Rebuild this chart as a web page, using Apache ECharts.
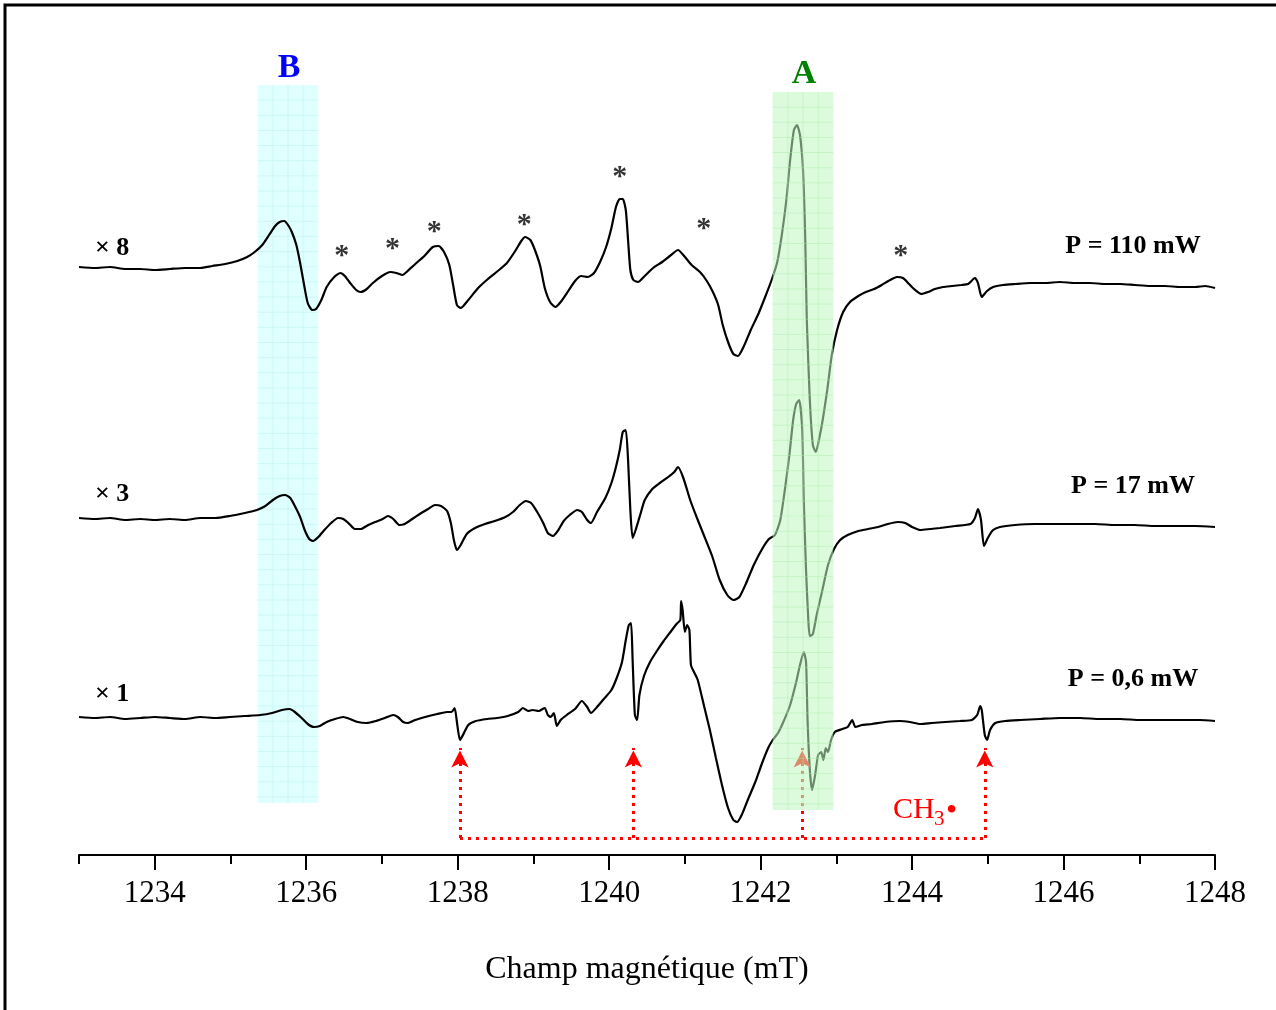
<!DOCTYPE html>
<html><head><meta charset="utf-8">
<script src="https://cdn.jsdelivr.net/npm/echarts@6/dist/echarts.min.js"></script>
<style>html,body{margin:0;padding:0;background:#fff}#c{width:1276px;height:1010px}</style>
</head><body><div id="c"></div>
<script>
// Field (mT) and intensity (arbitrary units, relative to each trace baseline)
const field110 = [1233.00,1233.21,1233.41,1233.61,1233.81,1234.00,1234.20,1234.40,1234.60,1234.76,1234.93,1235.09,1235.22,1235.32,1235.42,1235.51,1235.59,1235.65,1235.71,1235.76,1235.81,1235.87,1235.92,1235.97,1236.02,1236.08,1236.13,1236.20,1236.27,1236.37,1236.45,1236.51,1236.58,1236.66,1236.72,1236.80,1236.88,1237.00,1237.11,1237.19,1237.27,1237.34,1237.44,1237.56,1237.67,1237.75,1237.82,1237.89,1237.94,1237.99,1238.04,1238.14,1238.27,1238.40,1238.53,1238.65,1238.76,1238.84,1238.89,1238.96,1239.02,1239.09,1239.15,1239.22,1239.29,1239.36,1239.46,1239.55,1239.63,1239.72,1239.80,1239.88,1239.96,1240.03,1240.09,1240.14,1240.18,1240.22,1240.25,1240.28,1240.32,1240.38,1240.47,1240.58,1240.70,1240.80,1240.91,1240.99,1241.09,1241.20,1241.29,1241.37,1241.44,1241.50,1241.57,1241.64,1241.70,1241.78,1241.87,1241.97,1242.06,1242.15,1242.22,1242.28,1242.34,1242.39,1242.44,1242.48,1242.52,1242.56,1242.59,1242.61,1242.65,1242.69,1242.73,1242.77,1242.82,1242.88,1242.94,1243.01,1243.09,1243.18,1243.29,1243.39,1243.50,1243.60,1243.71,1243.80,1243.88,1243.96,1244.04,1244.12,1244.21,1244.30,1244.41,1244.53,1244.65,1244.74,1244.83,1244.87,1244.92,1244.99,1245.07,1245.20,1245.36,1245.56,1245.76,1245.95,1246.15,1246.35,1246.55,1246.75,1246.94,1247.14,1247.34,1247.54,1247.74,1247.87,1248.00];
const signal110 = [1,0,1,-1,-1,-2,-1,0,0,2,4,7,11,16,23,33,42,46,47,43,36,23,5,-16,-35,-42,-41,-32,-19,-9,-5,-8,-15,-22,-24,-21,-15,-8,-4,-5,-7,-3,4,12,21,22,16,3,-17,-37,-40,-32,-20,-11,-3,5,17,27,31,28,18,2,-20,-34,-39,-34,-23,-13,-8,-9,-5,6,21,40,61,69,69,58,28,-2,-12,-14,-8,0,6,12,18,12,3,-4,-13,-24,-37,-57,-74,-86,-88,-78,-62,-46,-29,-11,6,33,68,108,138,143,133,98,28,-52,-132,-177,-184,-172,-152,-122,-87,-62,-44,-34,-28,-24,-21,-17,-12,-9,-10,-16,-22,-26,-24,-21,-19,-18,-17,-16,-10,-15,-29,-23,-19,-17,-16,-15,-15,-14,-15,-15,-16,-16,-17,-18,-18,-19,-19,-18,-20];

const field17 = [1233.00,1233.21,1233.41,1233.61,1233.81,1234.00,1234.20,1234.40,1234.60,1234.80,1234.99,1235.19,1235.35,1235.46,1235.56,1235.65,1235.72,1235.79,1235.85,1235.92,1235.98,1236.04,1236.09,1236.16,1236.24,1236.33,1236.42,1236.49,1236.57,1236.64,1236.72,1236.82,1236.91,1237.01,1237.08,1237.15,1237.23,1237.30,1237.40,1237.50,1237.61,1237.70,1237.78,1237.86,1237.91,1237.95,1237.99,1238.04,1238.12,1238.23,1238.36,1238.49,1238.63,1238.73,1238.82,1238.90,1238.97,1239.05,1239.13,1239.19,1239.26,1239.33,1239.40,1239.48,1239.58,1239.64,1239.71,1239.76,1239.84,1239.95,1240.03,1240.09,1240.14,1240.18,1240.22,1240.25,1240.28,1240.31,1240.35,1240.41,1240.47,1240.57,1240.67,1240.78,1240.86,1240.91,1240.98,1241.07,1241.16,1241.25,1241.36,1241.46,1241.56,1241.64,1241.72,1241.81,1241.91,1242.02,1242.11,1242.19,1242.26,1242.32,1242.38,1242.43,1242.47,1242.51,1242.55,1242.57,1242.60,1242.63,1242.65,1242.69,1242.74,1242.81,1242.89,1242.97,1243.05,1243.15,1243.29,1243.42,1243.55,1243.68,1243.81,1243.91,1244.00,1244.11,1244.24,1244.37,1244.57,1244.77,1244.83,1244.87,1244.91,1244.95,1245.00,1245.07,1245.16,1245.36,1245.62,1245.89,1246.15,1246.42,1246.68,1246.94,1247.21,1247.47,1247.74,1248.00];
const signal17 = [1,0,1,-1,0,-1,0,-1,1,1,3,6,9,13,19,23,24,21,13,2,-11,-20,-22,-18,-11,-4,1,0,-5,-10,-10,-6,-3,0,3,0,-6,-5,0,5,10,14,13,8,-4,-21,-31,-26,-15,-9,-5,-2,2,7,14,18,16,7,-4,-14,-17,-11,-2,4,9,7,-1,-4,7,21,36,52,69,87,89,59,9,-19,-11,4,19,30,36,42,47,52,41,19,1,-16,-37,-61,-76,-81,-78,-64,-46,-30,-20,-16,-1,29,64,99,115,119,89,19,-51,-101,-117,-115,-96,-73,-46,-30,-21,-16,-12,-10,-8,-5,-3,-4,-8,-11,-10,-9,-7,-5,1,10,-1,-27,-19,-11,-8,-6,-5,-5,-5,-5,-6,-6,-7,-7,-7,-8];

const field06 = [1233.00,1233.21,1233.41,1233.61,1233.81,1234.00,1234.20,1234.40,1234.60,1234.80,1234.99,1235.19,1235.39,1235.55,1235.68,1235.78,1235.85,1235.94,1236.02,1236.10,1236.18,1236.27,1236.38,1236.49,1236.58,1236.68,1236.80,1236.92,1237.04,1237.15,1237.21,1237.28,1237.34,1237.44,1237.57,1237.73,1237.86,1237.92,1237.96,1237.99,1238.03,1238.07,1238.14,1238.24,1238.39,1238.52,1238.66,1238.80,1238.86,1238.93,1238.99,1239.07,1239.15,1239.19,1239.23,1239.27,1239.31,1239.36,1239.44,1239.55,1239.64,1239.71,1239.76,1239.84,1239.93,1240.03,1240.10,1240.17,1240.22,1240.26,1240.29,1240.31,1240.34,1240.37,1240.40,1240.46,1240.54,1240.63,1240.72,1240.81,1240.89,1240.94,1240.95,1240.97,1241.00,1241.03,1241.06,1241.08,1241.12,1241.17,1241.25,1241.33,1241.41,1241.49,1241.57,1241.64,1241.69,1241.75,1241.83,1241.93,1242.02,1242.10,1242.16,1242.23,1242.30,1242.39,1242.47,1242.52,1242.57,1242.60,1242.62,1242.65,1242.68,1242.72,1242.76,1242.80,1242.83,1242.86,1242.89,1242.93,1242.98,1243.08,1243.15,1243.21,1243.25,1243.34,1243.47,1243.64,1243.84,1243.97,1244.11,1244.26,1244.44,1244.63,1244.79,1244.86,1244.90,1244.92,1244.96,1244.99,1245.03,1245.10,1245.23,1245.43,1245.69,1245.95,1246.22,1246.48,1246.75,1247.01,1247.27,1247.54,1247.80,1248.00];
const signal06 = [1,0,1,-1,0,1,0,-1,1,0,1,2,3,5,8,9,6,0,-6,-9,-8,-4,-1,1,-1,-4,-5,-3,0,3,1,-4,-5,-2,1,4,6,6,10,-4,-22,-17,-7,-3,-1,0,2,6,10,7,8,7,10,3,1,5,-8,-2,3,9,17,11,5,11,19,28,40,56,78,93,95,58,3,-2,23,42,56,67,77,86,94,98,117,108,86,93,88,53,46,38,13,-12,-40,-67,-90,-102,-104,-97,-82,-64,-45,-30,-22,-15,-4,13,36,53,66,56,-2,-52,-72,-57,-37,-34,-42,-30,-34,-22,-14,-11,-9,-2,-9,-7,-6,-4,-3,-4,-6,-5,-4,-3,-2,3,12,8,-17,-22,-12,-5,-3,-2,-1,0,0,-1,-1,-2,-2,-2,-2,-3,-3];

const traceOffsets = [587, 336, 137];          // vertical stacking of the three spectra
const gainLabels = ['× 8', '× 3', '× 1'];
const powerLabels = ['P = 110 mW', 'P = 17 mW', 'P = 0,6 mW'];
const tickLabels = [1234, 1236, 1238, 1240, 1242, 1244, 1246, 1248];
const minorTicks = [1233, 1235, 1237, 1239, 1241, 1243, 1245, 1247];
const ch3Lines = [1238.03, 1240.32, 1242.55, 1244.96];
const ch3Base = 17, ch3Tip = 113;
const starField = [1236.47, 1237.14, 1237.69, 1238.88, 1240.14, 1241.25, 1243.85];
const starHeight = [608, 615, 632, 639, 687, 635, 608];
const bandB = [1235.36, 1236.16, 52, 770];
const bandA = [1242.16, 1242.96, 45, 763];

const serif = "'Liberation Serif','Times New Roman',serif";
function build(f, s, off) { return f.map((x, i) => [x, s[i] + off]); }

function bandRenderer(fill, lineColor) {
  return function (params, api) {
    const p0 = api.coord([api.value(0), api.value(3)]);
    const p1 = api.coord([api.value(1), api.value(2)]);
    const x = p0[0], y = p0[1], w = p1[0] - p0[0], h = p1[1] - p0[1];
    const children = [{ type: 'rect', shape: { x: x, y: y, width: w, height: h }, style: { fill: fill } }];
    const step = w / 4;
    for (let gx = x + step; gx < x + w - 1; gx += step)
      children.push({ type: 'line', shape: { x1: gx, y1: y, x2: gx, y2: y + h }, style: { stroke: lineColor, lineWidth: 1 } });
    for (let gy = y + step; gy < y + h - 1; gy += step)
      children.push({ type: 'line', shape: { x1: x, y1: gy, x2: x + w, y2: gy }, style: { stroke: lineColor, lineWidth: 1 } });
    return { type: 'group', children: children };
  };
}

const chart = echarts.init(document.getElementById('c'));
const traceStyle = { type: 'line', showSymbol: false, smooth: 0.2, silent: true,
  lineStyle: { color: '#000', width: 2.2 }, z: 3, animation: false };

chart.setOption({
  animation: false,
  grid: { left: 79, right: 61, top: 55, bottom: 155 },
  xAxis: [{
    type: 'value', min: 1233, max: 1248, interval: 1,
    name: 'Champ magnétique (mT)', nameLocation: 'middle', nameGap: 99,
    nameTextStyle: { fontFamily: serif, fontSize: 32, color: '#000' },
    axisLine: { lineStyle: { color: '#000', width: 2 } },
    axisTick: { customValues: tickLabels, length: 15, lineStyle: { color: '#000', width: 2 } },
    axisLabel: { customValues: tickLabels, formatter: v => String(v), margin: 23, fontFamily: serif, fontSize: 31, color: '#000' },
    splitLine: { show: false }
  }, {
    type: 'value', min: 1233, max: 1248, interval: 1, position: 'bottom',
    axisLine: { show: false },
    axisTick: { customValues: minorTicks, length: 9, lineStyle: { color: '#000', width: 2 } },
    axisLabel: { show: false }, splitLine: { show: false }
  }],
  yAxis: { type: 'value', min: 0, max: 800, show: false, splitLine: { show: false } },
  series: [
    { type: 'custom', z: 1, silent: true, data: [bandB], renderItem: bandRenderer('#e0ffff', '#cdf7f7') },
    Object.assign({}, traceStyle, { data: build(field110, signal110, traceOffsets[0]) }),
    Object.assign({}, traceStyle, { data: build(field17, signal17, traceOffsets[1]) }),
    Object.assign({}, traceStyle, { data: build(field06, signal06, traceOffsets[2]) }),
    { type: 'line', data: [], z: 4, silent: true,
      markLine: { silent: true, animation: false, label: { show: false }, symbol: 'none',
        lineStyle: { color: '#ff0000', width: 3, type: [3, 5], opacity: 1 },
        data: ch3Lines.map(x => [{ coord: [x, ch3Base] }, { coord: [x, ch3Tip - 6] }]).concat([
          [{ coord: [ch3Lines[0], ch3Base] }, { coord: [ch3Lines[3], ch3Base] }]
        ]) } },
    { type: 'scatter', z: 5, silent: true, symbol: 'arrow', symbolSize: [13, 17], symbolOffset: [0, '50%'],
      itemStyle: { color: '#ff0000', opacity: 1 },
      data: ch3Lines.map(x => [x, ch3Tip]) },
    { type: 'custom', z: 10, silent: true, data: [bandA], renderItem: bandRenderer('rgba(192,247,192,0.55)', 'rgba(170,235,170,0.45)') },
    { type: 'scatter', symbolSize: 0, silent: true, z: 11,
      data: starField.map((x, i) => [x, starHeight[i]]),
      label: { show: true, position: 'inside', offset: [0, 9], formatter: '*', fontFamily: serif, fontWeight: 'bold', fontSize: 30, color: '#000' } }
  ],
  graphic: [
    { type: 'rect', shape: { x: 5, y: 5, width: 1300, height: 1030 }, style: { fill: 'none', stroke: '#000', lineWidth: 3 }, z: 100 },
    { type: 'text', x: 289, y: 68, style: { text: 'B', fill: '#0000ff', font: 'bold 34px ' + serif, textAlign: 'center', textVerticalAlign: 'middle' }, z: 100 },
    { type: 'text', x: 804, y: 74, style: { text: 'A', fill: '#008000', font: 'bold 34px ' + serif, textAlign: 'center', textVerticalAlign: 'middle' }, z: 100 },
    { type: 'text', x: 95, y: 248, style: { text: gainLabels[0], fill: '#000', font: 'bold 26px ' + serif, textAlign: 'left', textVerticalAlign: 'middle' }, z: 100 },
    { type: 'text', x: 95, y: 494, style: { text: gainLabels[1], fill: '#000', font: 'bold 26px ' + serif, textAlign: 'left', textVerticalAlign: 'middle' }, z: 100 },
    { type: 'text', x: 95, y: 694, style: { text: gainLabels[2], fill: '#000', font: 'bold 26px ' + serif, textAlign: 'left', textVerticalAlign: 'middle' }, z: 100 },
    { type: 'text', x: 1133, y: 246, style: { text: powerLabels[0], fill: '#000', font: 'bold 26px ' + serif, textAlign: 'center', textVerticalAlign: 'middle' }, z: 100 },
    { type: 'text', x: 1133, y: 486, style: { text: powerLabels[1], fill: '#000', font: 'bold 26px ' + serif, textAlign: 'center', textVerticalAlign: 'middle' }, z: 100 },
    { type: 'text', x: 1133, y: 679, style: { text: powerLabels[2], fill: '#000', font: 'bold 26px ' + serif, textAlign: 'center', textVerticalAlign: 'middle' }, z: 100 },
    { type: 'text', x: 893, y: 810, style: { text: 'CH', fill: '#ff0000', font: '30px ' + serif, textAlign: 'left', textVerticalAlign: 'middle' }, z: 100 },
    { type: 'text', x: 934, y: 819, style: { text: '3', fill: '#ff0000', font: '21px ' + serif, textAlign: 'left', textVerticalAlign: 'middle' }, z: 100 },
    { type: 'text', x: 946, y: 812, style: { text: '•', fill: '#ff0000', font: '32px ' + serif, textAlign: 'left', textVerticalAlign: 'middle' }, z: 100 }
  ]
});
</script></body></html>
